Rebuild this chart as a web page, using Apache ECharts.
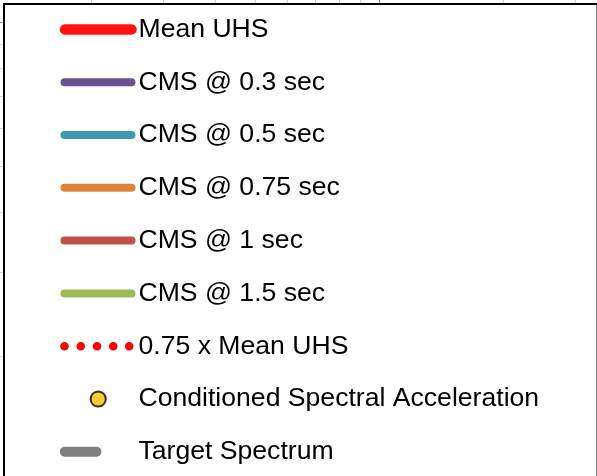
<!DOCTYPE html>
<html>
<head>
<meta charset="utf-8">
<script src="https://cdn.jsdelivr.net/npm/echarts@6/dist/echarts.min.js"></script>
<style>
  html, body { margin: 0; padding: 0; background: #fff; }
  #chart { width: 597px; height: 476px; }
</style>
</head>
<body>
<div id="chart"></div>
<script>
// legend entries, top to bottom
const names = [
  "Mean UHS",
  "CMS @ 0.3 sec",
  "CMS @ 0.5 sec",
  "CMS @ 0.75 sec",
  "CMS @ 1 sec",
  "CMS @ 1.5 sec",
  "0.75 x Mean UHS",
  "Conditioned Spectral Acceleration",
  "Target Spectrum",
];
const colors = ["#ff1111", "#6a5193", "#3f98b2", "#de823a", "#c0504d", "#9bbb59", "#ff0000", "#ffc000", "#808080"];

// the curves are all under the legend box in this view, none of their points show
const meanUhs = [];
const cms03 = [];
const cms05 = [];
const cms075 = [];
const cms1 = [];
const cms15 = [];
const meanUhs075 = [];
const csaPoints = [];
const targetSpectrum = [];
const seriesValues = [meanUhs, cms03, cms05, cms075, cms1, cms15, meanUhs075, csaPoints, targetSpectrum];

// log grid (period on x, spectral acceleration on y)
const xMinor = [0.2, 0.3, 0.4, 0.5, 0.6, 0.7, 0.8, 0.9, 2, 3, 4, 5, 6, 7, 8, 9];
const yMinor = [0.2, 0.3, 0.4, 0.5, 0.6, 0.7, 0.8, 0.9, 2, 3, 4, 5, 6, 7, 8, 9];
const xMajor = [1];
const yMajor = [1];

var myChart = echarts.init(document.getElementById("chart"));

// legend icons: each drawn in a W x H box, the two lone moves pin the box size
const W = 77, H = 40;
function frame() {
  return "M0,0 M" + W + "," + H + " ";
}
function bar(x1, x2) {
  return "path://" + frame() + "M" + x1 + ",20 L" + x2 + ",20";
}
function dot(cx, r) {
  return "M" + (cx - r) + ",20 A" + r + "," + r + " 0 1,0 " + (cx + r) + ",20 A" + r + "," + r + " 0 1,0 " + (cx - r) + ",20 Z ";
}

const icons = [
  bar(8.5, 75),
  bar(8, 75),
  bar(8, 75),
  bar(8, 75),
  bar(8, 75),
  bar(8, 75),
  "path://" + frame() + [8, 24.25, 40.5, 56.75, 72.7].map(c => dot(c, 4.3)).join(""),
  "path://" + frame() + dot(41.7, 7.6),
  bar(8.3, 40),
];
const iconStroke = [10.5, 8, 8, 8, 8, 8, 0, 2, 10];

const legends = names.map(function (name, i) {
  const s = iconStroke[i] / 2;
  const yc = 29.4 + 52.8 * i;
  let itemStyle;
  if (i === 6) {
    itemStyle = { color: colors[i], borderWidth: 0 };
  } else if (i === 7) {
    itemStyle = { color: colors[i], borderColor: "#000", borderWidth: 2 };
  } else {
    itemStyle = { color: colors[i], borderColor: colors[i], borderWidth: iconStroke[i], borderCap: "round" };
  }
  return {
    left: 56.5 - s,
    top: yc - H / 2 - s,
    padding: 0,
    itemWidth: W,
    itemHeight: H,
    selectedMode: false,
    z: 20,
    data: [{ name: name, icon: icons[i], itemStyle: itemStyle }],
    textStyle: {
      fontFamily: "Liberation Sans, Arial, sans-serif",
      fontSize: 26.6,
      color: "#000",
    },
  };
});

const series = names.map(function (name, i) {
  return {
    name: name,
    type: i === 7 ? "scatter" : "line",
    data: seriesValues[i],
    color: colors[i],
    symbol: i === 7 ? "circle" : "none",
  };
});

const gridLines = [];
xMinor.forEach(v => gridLines.push({ xAxis: v }));
yMinor.forEach(v => gridLines.push({ yAxis: v }));
xMajor.forEach(v => gridLines.push({ xAxis: v, lineStyle: { color: "#8c8c8c" } }));
yMajor.forEach(v => gridLines.push({ yAxis: v, lineStyle: { color: "#8c8c8c" } }));

series.push({
  name: "grid",
  type: "line",
  data: [],
  markLine: {
    silent: true,
    symbol: ["none", "none"],
    label: { show: false },
    lineStyle: { color: "#d4d4d4", width: 1, type: "solid" },
    data: gridLines,
  },
});

var option = {
  animation: false,
  grid: {
    left: -33,
    top: -456,
    width: 824,
    height: 956,
    outerBoundsMode: "none",
  },
  xAxis: {
    type: "log",
    min: 0.1,
    max: 10,
    axisLine: { show: false },
    axisTick: { show: false },
    axisLabel: { show: false },
    splitLine: { show: false },
  },
  yAxis: {
    type: "log",
    min: 0.1,
    max: 10,
    axisLine: { show: false },
    axisTick: { show: false },
    axisLabel: { show: false },
    splitLine: { show: false },
  },
  legend: legends,
  graphic: [
    {
      type: "rect",
      z: 10,
      shape: { x: 4, y: 4, width: 593.5, height: 520 },
      style: { fill: "#fff", stroke: "#000", lineWidth: 2 },
    },
  ],
  series: series,
};

myChart.setOption(option);
</script>
</body>
</html>
